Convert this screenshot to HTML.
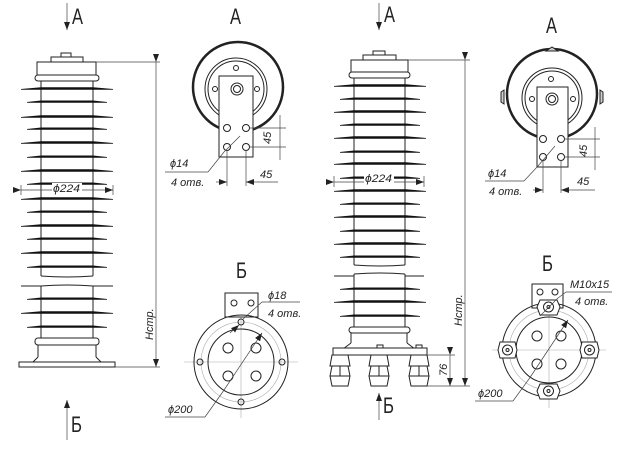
<!DOCTYPE html>
<html><head><meta charset="utf-8"><style>
html,body{margin:0;padding:0;background:#fff;}
svg{display:block;}
text{font-family:"Liberation Sans Narrow","Liberation Sans",sans-serif;fill:#222;}
.t{font-style:italic;font-size:11px;}
.big{font-size:22px;}
</style></head><body>
<svg width="643" height="470" viewBox="0 0 643 470" xmlns="http://www.w3.org/2000/svg">
<defs>
<path id="w" d="M21,0 L41,-1.8 L93,-1.8 L113,0 L113,0.7 L21,0.7 Z" fill="#111"/>
<path id="n" d="M27,0 L41,-1.5 L93,-1.5 L107,0 L107,0.7 L27,0.7 Z" fill="#111"/>
<marker id="ar" markerWidth="8" markerHeight="6" refX="8" refY="3" orient="auto" markerUnits="userSpaceOnUse"><path d="M0,0 L8,3 L0,6 Z" fill="#222"/></marker>
</defs>
<g stroke="#222" fill="none" stroke-width="1">
<!-- LEFT INSULATOR -->
<rect x="51" y="57" width="32" height="5" fill="#fff"/>
<rect x="61" y="53" width="10" height="4"/>
<rect x="37" y="62" width="59" height="13" fill="#fff"/>
<rect x="35" y="75" width="64" height="6" rx="3" fill="#fff"/>
<line x1="41" y1="81" x2="41" y2="276"/><line x1="93" y1="81" x2="93" y2="276"/>
<path d="M41,276 Q67,278 93,276"/>
<path d="M41,286 Q67,284 93,286"/>
<line x1="41" y1="286" x2="41" y2="338"/><line x1="93" y1="286" x2="93" y2="338"/>
<rect x="35" y="338" width="64" height="7" rx="3" fill="#fff"/>
<path d="M38,345 L38,357 M96,345 L96,357"/>
<path d="M38,357 L32,363 M96,357 L102,363"/>
<rect x="19" y="362" width="96" height="5" fill="#fff"/>
<!-- RIGHT INSULATOR -->
<rect x="363" y="55" width="33" height="5" fill="#fff"/>
<rect x="373" y="51" width="12" height="4"/>
<rect x="351" y="60" width="57" height="12" fill="#fff"/>
<rect x="349" y="72" width="61" height="6" rx="3" fill="#fff"/>
<line x1="354" y1="78" x2="354" y2="265"/><line x1="405" y1="78" x2="405" y2="265"/>
<path d="M354,265 Q380,267 405,265"/>
<path d="M354,274 Q380,272 405,274"/>
<line x1="354" y1="274" x2="354" y2="327"/><line x1="405" y1="274" x2="405" y2="327"/>
<rect x="349" y="327" width="61" height="6" rx="3" fill="#fff"/>
<path d="M351,333 L351,343 M407,333 L407,343 M351,343 L343,349 M407,343 L415,349"/>
<rect x="333" y="348" width="94" height="7" fill="#fff"/>
<rect x="377" y="345" width="6" height="3"/><rect x="416" y="345" width="6" height="3"/>
<path d="M332,355 L348,355 L350,366 L348,366 L350,376 L348,386 L332,386 L330,376 L332,366 L330,366 Z M330,366 L350,366 M330,376 L350,376 M340,366 L340,376" fill="#fff"/>
<path d="M371,355 L387,355 L389,366 L387,366 L389,376 L387,386 L371,386 L369,376 L371,366 L369,366 Z M369,366 L389,366 M369,376 L389,376 M379,366 L379,376" fill="#fff"/>
<path d="M411,355 L427,355 L429,366 L427,366 L429,376 L427,386 L411,386 L409,376 L411,366 L409,366 Z M409,366 L429,366 M409,376 L429,376 M419,366 L419,376" fill="#fff"/>
</g>
<!-- sheds left -->
<g>
<use href="#w" y="89"/><use href="#n" y="102"/><use href="#w" y="117"/><use href="#n" y="129"/>
<use href="#w" y="143"/><use href="#n" y="157"/><use href="#w" y="171"/><use href="#n" y="184"/>
<use href="#w" y="199"/><use href="#n" y="212"/><use href="#w" y="226"/><use href="#n" y="239"/>
<use href="#w" y="253"/><use href="#n" y="267"/>
<use href="#n" y="299"/><use href="#w" y="313"/><use href="#n" y="327"/>
</g>
<path d="M21,286 L41,286 M93,286 L113,286" stroke="#222"/>
<!-- sheds right -->
<g transform="translate(313,0)">
<use href="#w" y="86"/><use href="#n" y="99"/><use href="#w" y="112"/><use href="#n" y="125"/>
<use href="#w" y="138"/><use href="#n" y="152"/><use href="#w" y="164"/><use href="#n" y="178"/>
<use href="#w" y="191"/><use href="#n" y="204"/><use href="#w" y="217"/><use href="#n" y="231"/>
<use href="#w" y="244"/><use href="#n" y="257"/>
<use href="#n" y="289"/><use href="#w" y="302"/><use href="#n" y="316"/>
</g>
<path d="M334,276 L354,276 M405,276 L424,276" stroke="#222"/>
<!-- dims insulators -->
<g stroke="#444" stroke-width="0.7" fill="none">
<line x1="96" y1="62" x2="160" y2="62"/><line x1="115" y1="367" x2="160" y2="367"/>
<line x1="156" y1="62" x2="156" y2="367" marker-start="url(#ar)" marker-end="url(#ar)"/>
<line x1="21" y1="185" x2="21" y2="195"/><line x1="113" y1="185" x2="113" y2="195"/>
<line x1="21" y1="190" x2="113" y2="190" marker-start="url(#ar)" marker-end="url(#ar)"/>
<line x1="408" y1="60" x2="470" y2="60"/><line x1="427" y1="386" x2="470" y2="386"/>
<line x1="465" y1="60" x2="465" y2="386" marker-start="url(#ar)" marker-end="url(#ar)"/>
<line x1="334" y1="176" x2="334" y2="187"/><line x1="424" y1="176" x2="424" y2="187"/>
<line x1="334" y1="182" x2="424" y2="182" marker-start="url(#ar)" marker-end="url(#ar)"/>
<line x1="427" y1="355" x2="455" y2="355"/>
<line x1="450" y1="355" x2="450" y2="386" marker-start="url(#ar)" marker-end="url(#ar)"/>
<line x1="67" y1="3" x2="67" y2="30" marker-end="url(#ar)"/>
<line x1="67" y1="440" x2="67" y2="400" marker-end="url(#ar)"/>
<line x1="379" y1="3" x2="379" y2="30" marker-end="url(#ar)"/>
<line x1="379" y1="420" x2="379" y2="393" marker-end="url(#ar)"/>
</g>
<rect x="52" y="183" width="30" height="12" fill="#fff"/>
<text class="t" x="53" y="192" font-size="13" textLength="27" lengthAdjust="spacingAndGlyphs">ϕ224</text>
<rect x="364" y="173" width="30" height="12" fill="#fff"/>
<text class="t" x="365" y="182" font-size="13" textLength="27" lengthAdjust="spacingAndGlyphs">ϕ224</text>
<text class="t" transform="translate(153,340) rotate(-90)" font-size="12">Нстр.</text>
<text class="t" transform="translate(462,326) rotate(-90)" font-size="12">Нстр.</text>
<text class="t" transform="translate(447,376) rotate(-90)" font-size="12">76</text>
<text class="big" x="72" y="24" textLength="11" lengthAdjust="spacingAndGlyphs">A</text>
<text class="big" x="71" y="432" textLength="11" lengthAdjust="spacingAndGlyphs">Б</text>
<text class="big" x="384" y="22" textLength="11" lengthAdjust="spacingAndGlyphs">A</text>
<text class="big" x="383" y="413" textLength="11" lengthAdjust="spacingAndGlyphs">Б</text>
<text class="big" x="230" y="24" textLength="11" lengthAdjust="spacingAndGlyphs">A</text>
<text class="big" x="546" y="33" textLength="11" lengthAdjust="spacingAndGlyphs">A</text>
<text class="big" x="236" y="278" textLength="11" lengthAdjust="spacingAndGlyphs">Б</text>
<text class="big" x="542" y="271" textLength="11" lengthAdjust="spacingAndGlyphs">Б</text>

<!-- TOP VIEW LEFT -->
<g stroke="#222" fill="none">
<circle cx="238" cy="87" r="45" stroke-width="2.5"/>
<circle cx="236" cy="89" r="31"/><circle cx="236" cy="89" r="28"/>
<rect x="219" y="76" width="34" height="81" fill="#fff"/>
<circle cx="237" cy="89" r="6"/><circle cx="237" cy="89" r="3.5"/>
<circle cx="236" cy="68" r="2.5"/><circle cx="215" cy="89" r="2.5"/><circle cx="257" cy="89" r="2.5"/>
<circle cx="227" cy="128" r="3.5"/><circle cx="246" cy="128" r="3.5"/><circle cx="227" cy="147" r="3.5"/><circle cx="246" cy="147" r="3.5"/>
</g>
<g stroke="#444" stroke-width="0.7" fill="none">
<line x1="249" y1="128" x2="286" y2="128"/><line x1="249" y1="147" x2="286" y2="147"/>
<line x1="280" y1="115" x2="280" y2="160"/>
<line x1="227" y1="150" x2="227" y2="186"/><line x1="246" y1="150" x2="246" y2="186"/>
<line x1="216" y1="182" x2="227" y2="182" marker-end="url(#ar)"/><line x1="257" y1="182" x2="246" y2="182" marker-end="url(#ar)"/>
<line x1="257" y1="182" x2="278" y2="182"/>
<line x1="240" y1="136" x2="224" y2="152"/>
<line x1="224" y1="152" x2="208" y2="172" /><line x1="208" y1="172" x2="165" y2="172"/>
</g>
<text class="t" x="261" y="140" font-size="12" transform="rotate(-90 268 137)">45</text>
<text class="t" x="260" y="178" font-size="13">45</text>
<text class="t" x="170" y="167" font-size="12">ϕ14</text>
<text class="t" x="171" y="186" font-size="12">4 отв.</text>

<!-- TOP VIEW RIGHT -->
<g stroke="#222" fill="none">
<circle cx="552" cy="94" r="45" stroke-width="2.5"/>
<circle cx="552" cy="98" r="30"/><circle cx="552" cy="98" r="27"/>
<path d="M546,51 L552,47 L558,51 Z M501,92 L504,90 L504,104 L501,102 Z M603,92 L600,90 L600,104 L603,102 Z" fill="#ccc"/>
<rect x="537" y="87" width="31" height="80" fill="#fff"/>
<circle cx="552" cy="99" r="6"/><circle cx="552" cy="99" r="3.5"/>
<circle cx="551" cy="79" r="2.5"/><circle cx="532" cy="99" r="2.5"/><circle cx="573" cy="99" r="2.5"/>
<circle cx="543" cy="139" r="3.5"/><circle cx="561" cy="139" r="3.5"/><circle cx="543" cy="157" r="3.5"/><circle cx="561" cy="157" r="3.5"/>
</g>
<g stroke="#444" stroke-width="0.7" fill="none">
<line x1="564" y1="139" x2="600" y2="139"/><line x1="564" y1="157" x2="600" y2="157"/>
<line x1="595" y1="127" x2="595" y2="170"/>
<line x1="543" y1="160" x2="543" y2="193"/><line x1="561" y1="160" x2="561" y2="193"/>
<line x1="533" y1="190" x2="543" y2="190" marker-end="url(#ar)"/><line x1="571" y1="190" x2="561" y2="190" marker-end="url(#ar)"/>
<line x1="571" y1="190" x2="595" y2="190"/>
<line x1="555" y1="146" x2="538" y2="166"/><line x1="538" y1="166" x2="524" y2="181"/><line x1="524" y1="181" x2="485" y2="181"/>
</g>
<text class="t" x="576" y="154" font-size="12" transform="rotate(-90 583 150)">45</text>
<text class="t" x="577" y="185" font-size="13">45</text>
<text class="t" x="488" y="177" font-size="12">ϕ14</text>
<text class="t" x="489" y="195" font-size="12">4 отв.</text>

<!-- BOTTOM VIEW LEFT -->
<g stroke="#aaa" stroke-width="0.6" fill="none">
<circle cx="241" cy="362" r="40"/>
<line x1="184" y1="362" x2="298" y2="362"/><line x1="241" y1="300" x2="241" y2="418"/>
</g>
<g stroke="#222" fill="none">
<rect x="225" y="293" width="33" height="24" fill="#fff"/>
<circle cx="234" cy="303" r="3"/><circle cx="251" cy="303" r="3"/>
<circle cx="241" cy="362" r="47"/>
<circle cx="241" cy="362" r="33"/>
<circle cx="241" cy="322" r="3"/><circle cx="241" cy="402" r="3"/><circle cx="200" cy="362" r="3"/><circle cx="282" cy="362" r="3"/>
<circle cx="228" cy="348" r="5"/><circle cx="256" cy="348" r="5"/><circle cx="228" cy="376" r="5"/><circle cx="256" cy="376" r="5"/>
</g>
<g stroke="#444" stroke-width="0.7" fill="none">
<line x1="230" y1="333" x2="239" y2="325" marker-end="url(#ar)"/><line x1="243" y1="319" x2="262" y2="302"/><line x1="262" y1="302" x2="300" y2="302"/>
<line x1="222" y1="393" x2="262" y2="333" marker-end="url(#ar)"/>
<line x1="222" y1="393" x2="205" y2="417"/><line x1="205" y1="417" x2="165" y2="417"/>
</g>
<text class="t" x="268" y="299" font-size="12">ϕ18</text>
<text class="t" x="268" y="317" font-size="12">4 отв.</text>
<text class="t" x="168" y="413" font-size="12">ϕ200</text>

<!-- BOTTOM VIEW RIGHT -->
<g stroke="#aaa" stroke-width="0.6" fill="none">
<circle cx="549" cy="350" r="40"/>
<line x1="492" y1="350" x2="606" y2="350"/><line x1="549" y1="290" x2="549" y2="408"/>
</g>
<g stroke="#222" fill="none">
<rect x="532" y="284" width="31" height="24" fill="#fff"/>
<circle cx="540" cy="292" r="3"/><circle cx="555" cy="292" r="3"/>
<circle cx="549" cy="350" r="47"/>
<circle cx="549" cy="350" r="33"/>
<circle cx="537" cy="336" r="5"/><circle cx="561" cy="336" r="5"/><circle cx="537" cy="364" r="5"/><circle cx="561" cy="364" r="5"/>
<g fill="#fff">
<path d="M540,300 L557,300 L560,307 L557,315 L540,315 L537,307 Z"/><circle cx="548.5" cy="307" r="5"/><circle cx="548.5" cy="307" r="1.5"/>
<path d="M540,384 L557,384 L560,391 L557,399 L540,399 L537,391 Z"/><circle cx="548.5" cy="391" r="5"/><circle cx="548.5" cy="391" r="1.5"/>
<path d="M500,342 L515,342 L517,350 L515,358 L500,358 L498,350 Z"/><circle cx="507.5" cy="350" r="5"/><circle cx="507.5" cy="350" r="1.5"/>
<path d="M582,342 L597,342 L599,350 L597,358 L582,358 L580,350 Z"/><circle cx="589.5" cy="350" r="5"/><circle cx="589.5" cy="350" r="1.5"/>
</g>
</g>
<g stroke="#444" stroke-width="0.7" fill="none">
<line x1="540" y1="316" x2="558" y2="298"/><line x1="558" y1="298" x2="566" y2="292"/><line x1="566" y1="292" x2="612" y2="292"/>
<line x1="529" y1="379" x2="568" y2="320" marker-end="url(#ar)"/>
<line x1="529" y1="379" x2="513" y2="401"/><line x1="513" y1="401" x2="475" y2="401"/>
</g>
<text class="t" x="570" y="288" font-size="12">M10x15</text>
<text class="t" x="575" y="305" font-size="12">4 отв.</text>
<text class="t" x="478" y="397" font-size="12">ϕ200</text>
</svg>
</body></html>
